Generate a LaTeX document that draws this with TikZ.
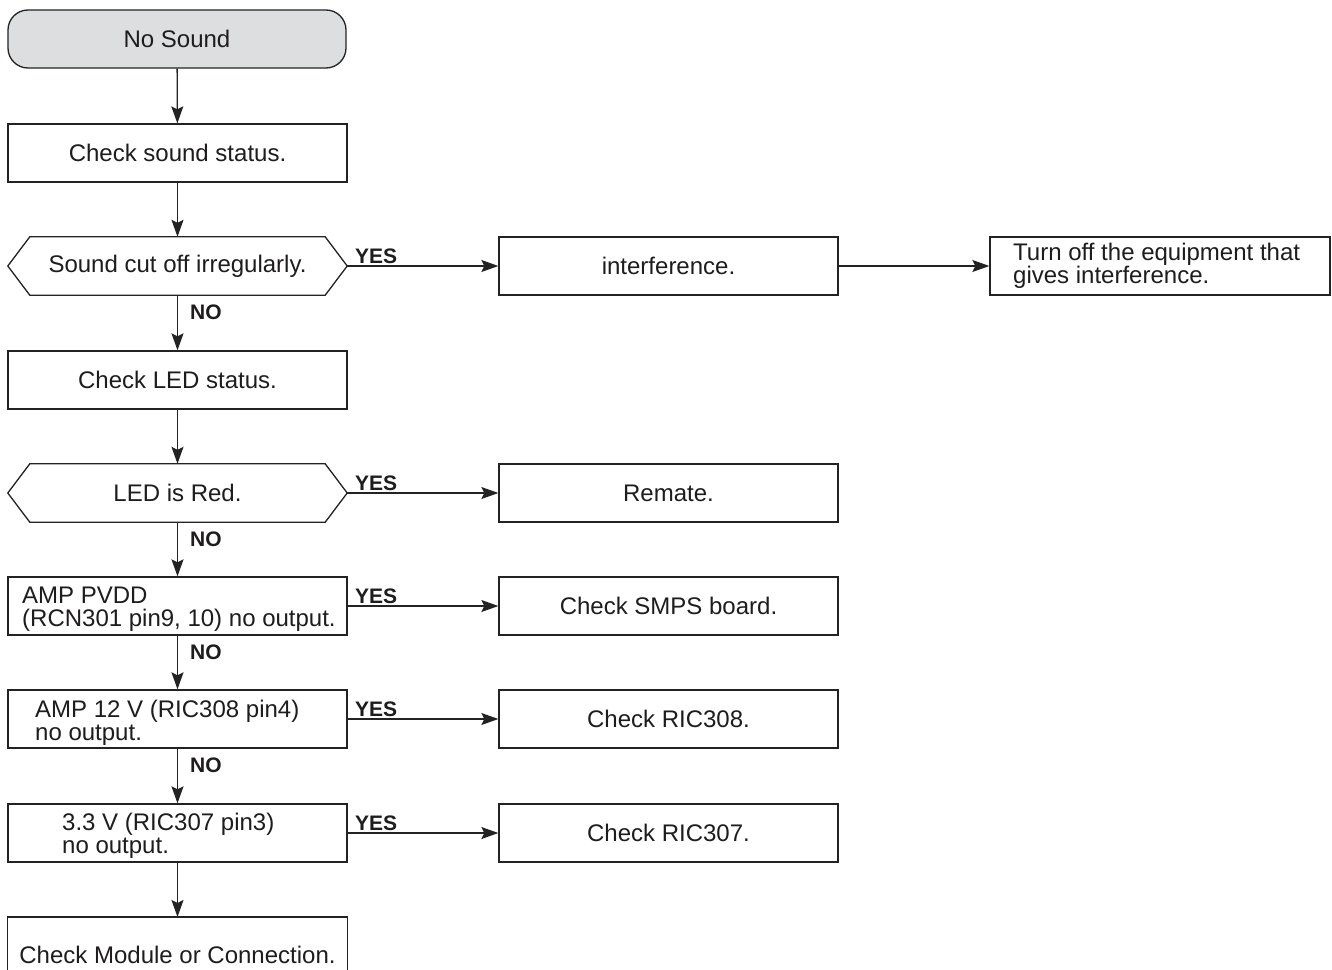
\documentclass[tikz,border=0pt]{standalone}
\usepackage{fontspec}
\setmainfont{Liberation Sans}
\usetikzlibrary{arrows.meta,calc}
\definecolor{lncol}{RGB}{35,35,35}
\definecolor{txcol}{RGB}{30,28,29}
\definecolor{startfill}{RGB}{221,222,223}
\newcommand\hexoutline[1]{%
  \draw[ln] (#1.west) -- ($(#1.north west)+(22,0)$) -- ($(#1.north east)+(-22,0)$) -- (#1.east)
    -- ($(#1.south east)+(-22,0)$) -- ($(#1.south west)+(22,0)$) -- cycle;}
\begin{document}
\begin{tikzpicture}[x=1pt,y=-1pt,
  ln/.style={line width=1.3pt, draw=lncol},
  boxbase/.style={rectangle, minimum width=339pt, minimum height=58pt, inner sep=0pt,
    font=\fontsize{24}{23}\selectfont, text=txcol},
  box/.style={boxbase, ln},
  hexn/.style={boxbase},
  ltext/.style={anchor=base west, align=left, inner sep=0pt,
    font=\fontsize{24}{23}\selectfont, text=txcol},
  arr/.style={ln, -{Stealth[length=17pt,width=12pt,inset=3pt]}},
  lbl/.style={font=\fontsize{21}{21}\selectfont\bfseries, text=txcol, inner sep=0pt}
]
\clip (0,0) rectangle (1332,969);
\fill[white] (0,0) rectangle (1332,969);

% left column
\node[box, fill=startfill, rounded corners=20pt, minimum width=338pt] (start) at (177,39) {No Sound};
\node[box] (s1) at (177.5,153) {Check sound status.};
\node[hexn] (d1) at (177.5,266) {Sound cut off irregularly.};
\hexoutline{d1}
\node[box] (s2) at (177.5,380) {Check LED status.};
\node[hexn] (d2) at (177.5,493) {LED is Red.};
\hexoutline{d2}
\node[box] (d3) at (177.5,606) {};
\node[ltext] (t3) at (22,626) {AMP PVDD\\(RCN301 pin9, 10) no output.};
\node[box] (d4) at (177.5,719) {};
\node[ltext] (t4) at (35,740) {AMP 12 V (RIC308 pin4)\\no output.};
\node[box] (d5) at (177.5,833) {};
\node[ltext] (t5) at (62,853) {3.3 V (RIC307 pin3)\\no output.};
\node[boxbase, anchor=north, minimum height=76pt] (e) at (177.5,917) {Check Module or Connection.};
\draw[ln] (e.south west) -- (e.north west) -- (e.north east) -- (e.south east);

% right column
\node[box] (r1) at (668.5,266) {interference.};
\node[box, minimum width=340pt] (r1b) at (1160,266) {};
\node[ltext] (t1b) at (1013,283) {Turn off the equipment that\\gives interference.};
\node[box] (r2) at (668.5,493) {Remate.};
\node[box] (r3) at (668.5,606) {Check SMPS board.};
\node[box] (r4) at (668.5,719) {Check RIC308.};
\node[box] (r5) at (668.5,833) {Check RIC307.};

% vertical connectors
\draw[arr] (start) -- (s1);
\draw[arr] (s1) -- (d1);
\draw[arr] (d1) -- (s2);
\draw[arr] (s2) -- (d2);
\draw[arr] (d2) -- (d3);
\draw[arr] (d3) -- (d4);
\draw[arr] (d4) -- (d5);
\draw[arr] (d5.south) -- (e.north);

% horizontal connectors
\draw[arr] (d1.east) -- (r1.west);
\draw[arr] (r1.east) -- (r1b.west);
\draw[arr] (d2.east) -- (r2.west);
\draw[arr] (d3.east) -- (r3.west);
\draw[arr] (d4.east) -- (r4.west);
\draw[arr] (d5.east) -- (r5.west);

% labels
\node[lbl, anchor=base west] (y1) at (355,263) {YES};
\node[lbl, anchor=base west] (y2) at (355,490) {YES};
\node[lbl, anchor=base west] (y3) at (355,603) {YES};
\node[lbl, anchor=base west] (y4) at (355,716) {YES};
\node[lbl, anchor=base west] (y5) at (355,830) {YES};
\node[lbl, anchor=base west] (n1) at (190,319) {NO};
\node[lbl, anchor=base west] (n2) at (190,546) {NO};
\node[lbl, anchor=base west] (n3) at (190,659) {NO};
\node[lbl, anchor=base west] (n4) at (190,772) {NO};
\end{tikzpicture}
\end{document}
